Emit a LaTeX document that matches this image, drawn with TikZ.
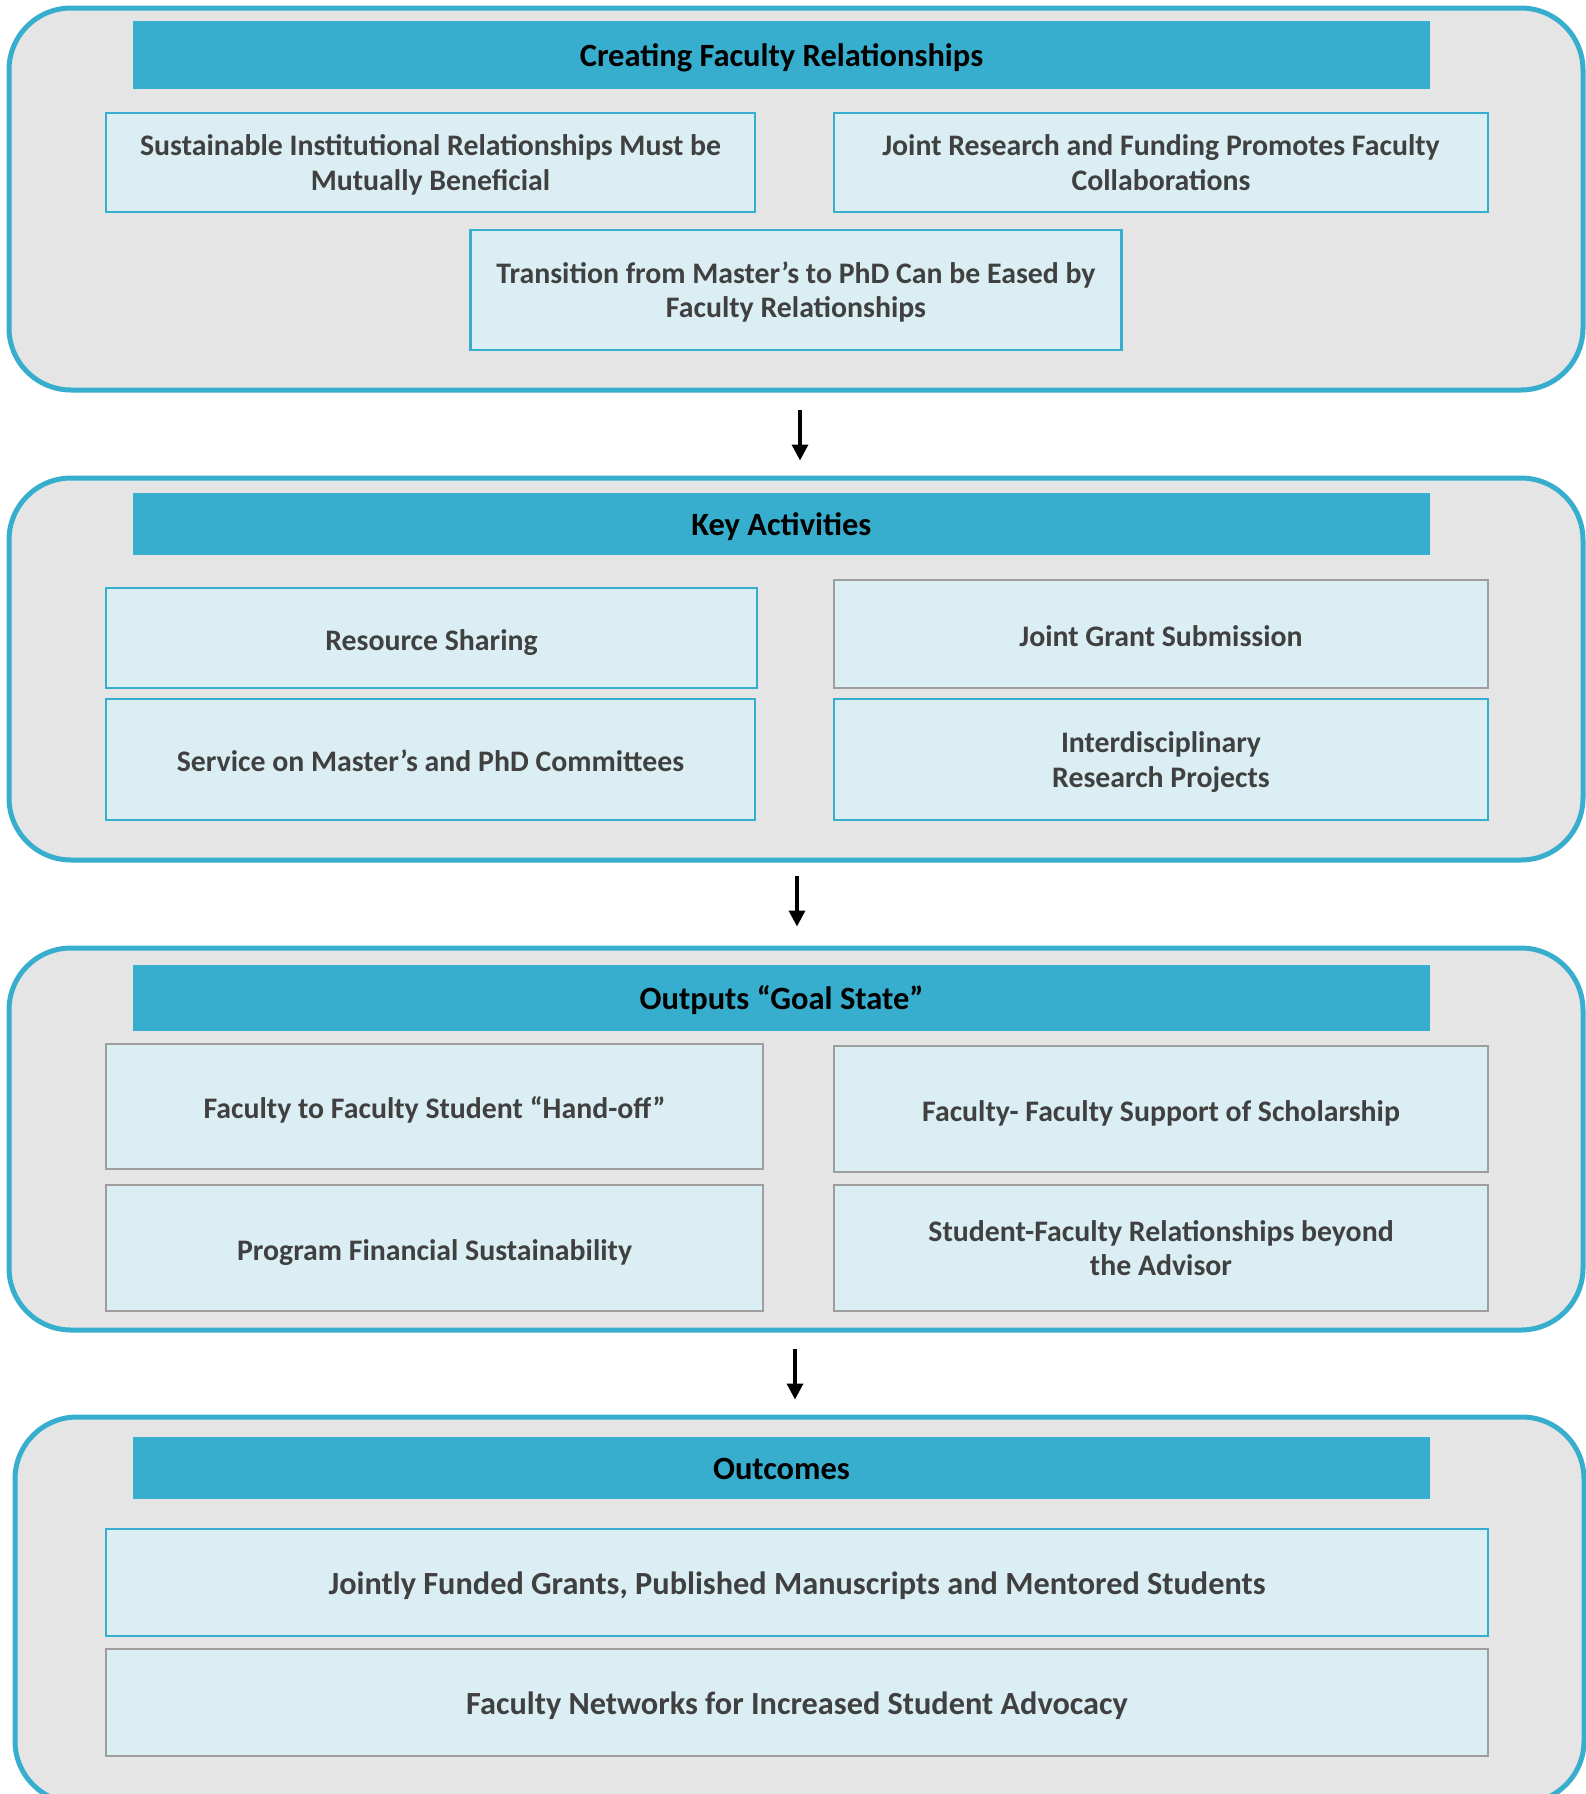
\documentclass[tikz,border=0pt]{standalone}
\usepackage{fontspec}
\setmainfont{Carlito}
\usetikzlibrary{arrows.meta}
\definecolor{blu}{RGB}{55,174,206}
\definecolor{lightb}{RGB}{218,238,243}
\definecolor{outerg}{RGB}{229,229,229}
\definecolor{grayb}{RGB}{158,158,158}
\definecolor{txt}{RGB}{64,64,64}
\def\ruleh{1.08em}
\newcommand\firstlinelift{\rule{0pt}{0.98em}}
\tikzset{
 rh/.code={\def\ruleh{#1}},
 section/.style={draw=blu, line width=5pt, fill=outerg, rounded corners=62pt, minimum height=382pt, inner sep=0pt},
 header/.style={fill=blu, minimum width=1297pt, inner sep=0pt, font=\fontsize{32.5}{38}\selectfont\bfseries, text=black,
   execute at begin node={\rule{0pt}{0.96em}}, execute at end node={\rule[-0.26em]{0pt}{0.26em}}},
 item/.style={fill=lightb, line width=2.5pt, inner sep=0pt, align=center, font=\fontsize{29.8}{34.3}\selectfont\bfseries, text=txt, rh=1.08em,
   execute at begin node={\rule{0pt}{\ruleh}}, execute at end node={\rule[-0.27em]{0pt}{0.27em}}},
 bigitem/.style={font=\fontsize{32.3}{38}\selectfont\bfseries, rh=1.0em},
 bitem/.style={item, draw=blu},
 gitem/.style={item, draw=grayb},
 arr/.style={-{Triangle[length=16pt,width=16pt]}, line width=3.5pt, black},
}
\begin{document}
\begin{tikzpicture}[x=1pt,y=-1pt]
\useasboundingbox (0,0) rectangle (1586,1794);
\clip (0,0) rectangle (1586,1794);
% sections
\node[section, minimum width=1574pt] (s1) at (796,199) {};
\node[section, minimum width=1574pt] (s2) at (796,669) {};
\node[section, minimum width=1574pt] (s3) at (796,1139) {};
\node[section, minimum width=1569pt, minimum height=386pt] (s4) at (799.5,1610) {};
% headers
\node[header, minimum height=68pt] (h1) at (781.5,55) {Creating Faculty Relationships};
\node[header, minimum height=62pt] (h2) at (781.5,524) {Key Activities};
\node[header, minimum height=66pt] (h3) at (781.5,998) {Outputs “Goal State”};
\node[header, minimum height=62pt] (h4) at (781.5,1468) {Outcomes};
% section 1 items
\node[bitem, minimum width=649pt, minimum height=99pt] (b11) at (430.5,162.5) {\firstlinelift Sustainable Institutional Relationships Must be\\Mutually Beneficial};
\node[bitem, minimum width=654pt, minimum height=99pt] (b12) at (1161,162.5) {\firstlinelift Joint Research and Funding Promotes Faculty\\Collaborations};
\node[bitem, minimum width=651pt, minimum height=120pt] (b13) at (796,290) {\firstlinelift Transition from Master’s to PhD Can be Eased by\\Faculty Relationships};
% section 2 items
\node[bitem, minimum width=651pt, minimum height=100pt] (b21) at (431.5,638) {Resource Sharing};
\node[gitem, minimum width=654pt, minimum height=108pt] (b22) at (1161,634) {Joint Grant Submission};
\node[bitem, minimum width=649pt, minimum height=121pt] (b23) at (430.5,759.5) {Service on Master’s and PhD Committees};
\node[bitem, minimum width=654pt, minimum height=121pt] (b24) at (1161,759.5) {\firstlinelift Interdisciplinary\\Research Projects};
% section 3 items
\node[gitem, minimum width=657pt, minimum height=125pt] (b31) at (434.5,1106.5) {Faculty to Faculty Student “Hand-off”};
\node[gitem, minimum width=654pt, minimum height=126pt] (b32) at (1161,1109) {Faculty- Faculty Support of Scholarship};
\node[gitem, minimum width=657pt, minimum height=126pt] (b33) at (434.5,1248) {Program Financial Sustainability};
\node[gitem, minimum width=654pt, minimum height=126pt] (b34) at (1161,1248) {\firstlinelift Student-Faculty Relationships beyond\\the Advisor};
% section 4 items
\node[bitem, bigitem, minimum width=1382pt, minimum height=107pt] (b41) at (797,1582.5) {Jointly Funded Grants, Published Manuscripts and Mentored Students};
\node[gitem, bigitem, minimum width=1382pt, minimum height=107pt] (b42) at (797,1702.5) {Faculty Networks for Increased Student Advocacy};
% arrows
\draw[arr, shorten <=17pt, shorten >=15pt] ([xshift=4pt]s1.south) -- ([xshift=4pt]s2.north);
\draw[arr, shorten <=13pt, shorten >=19pt] ([xshift=1pt]s2.south) -- ([xshift=1pt]s3.north);
\draw[arr, shorten <=16pt, shorten >=15pt] ([xshift=-1pt]s3.south) -- ([xshift=-4.5pt]s4.north);
\end{tikzpicture}
\end{document}
